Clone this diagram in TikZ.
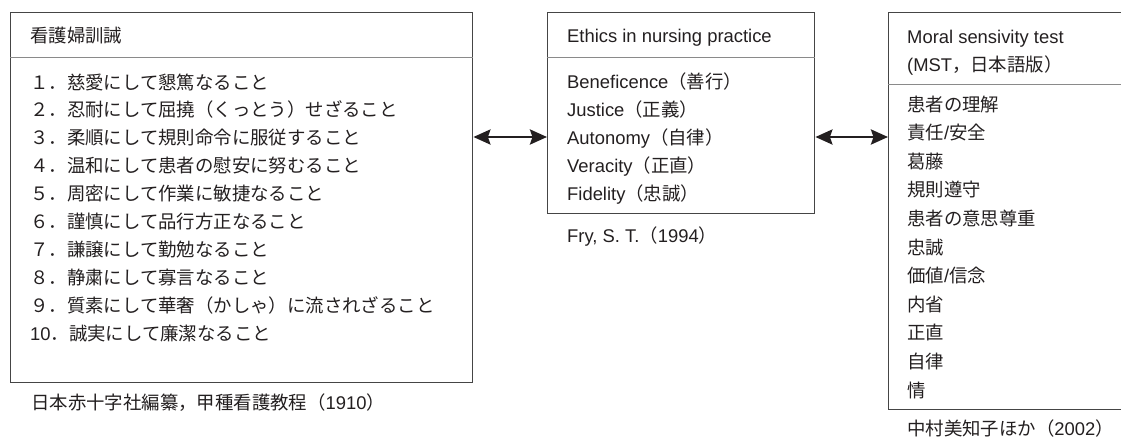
\documentclass[tikz,border=0pt]{standalone}
\usepackage{fontspec}
\setmainfont{Liberation Sans}
\newfontfamily\jp{Noto Sans CJK JP}
\usetikzlibrary{arrows.meta}
\definecolor{ink}{HTML}{231F20}
\definecolor{frame}{HTML}{454545}
\definecolor{rulegray}{HTML}{8A8A8A}
\begin{document}
\begin{tikzpicture}[
        x=1pt, y=-1pt,
        % 样式
        box/.style={draw=frame, line width=1.4pt, anchor=north west, inner sep=0pt},
        rule/.style={draw=rulegray, line width=1pt},
        txt/.style={anchor=base west, inner sep=0pt, text=ink, font=\fontsize{18.4}{22}\selectfont},
        link/.style={draw=ink, line width=2.8pt,
            {Stealth[length=17pt,width=15pt,inset=2.5pt]}-{Stealth[length=17pt,width=15pt,inset=2.5pt]}},
    ]
    \useasboundingbox (0,0) rectangle (1121,439);
    \clip (0,0) rectangle (1121,439);

    % 三个框
    \node[box, minimum width=462pt, minimum height=370pt] (kunkai) at (10,12) {};
    \node[box, minimum width=267pt, minimum height=201pt] (ethics) at (547,12) {};
    \node[box, minimum width=260pt, minimum height=397pt] (mst) at (888,12) {};

    % 标题分隔线
    \coordinate (s1) at (0,57);
    \coordinate (s2) at (0,84);
    \draw[rule] (kunkai.west |- s1) -- (kunkai.east |- s1);
    \draw[rule] (ethics.west |- s1) -- (ethics.east |- s1);
    \draw[rule] (mst.west |- s2) -- (mst.east |- s2);

    % 左框：看護婦訓誡
    \def\lx{30}
    \def\ldy{27.9}
    \node[txt] (k0) at (\lx,42) {\jp 看護婦訓誡};
    \node[txt] (k1) at (\lx,89) {\jp １．慈愛にして懇篤なること};
    \node[txt] (k2) at (\lx,{89+\ldy}) {\jp ２．忍耐にして屈撓（くっとう）せざること};
    \node[txt] (k3) at (\lx,{89+2*\ldy}) {\jp ３．柔順にして規則命令に服従すること};
    \node[txt] (k4) at (\lx,{89+3*\ldy}) {\jp ４．温和にして患者の慰安に努むること};
    \node[txt] (k5) at (\lx,{89+4*\ldy}) {\jp ５．周密にして作業に敏捷なること};
    \node[txt] (k6) at (\lx,{89+5*\ldy}) {\jp ６．謹慎にして品行方正なること};
    \node[txt] (k7) at (\lx,{89+6*\ldy}) {\jp ７．謙譲にして勤勉なること};
    \node[txt] (k8) at (\lx,{89+7*\ldy}) {\jp ８．静粛にして寡言なること};
    \node[txt] (k9) at (\lx,{89+8*\ldy}) {\jp ９．質素にして華奢（かしゃ）に流されざること};
    \node[txt] (k10) at (\lx,{89+9*\ldy}) {10{\jp ．誠実にして廉潔なること}};
    \node[txt] (kref) at (31,409) {{\jp 日本赤十字社編纂，甲種看護教程（}1910{\jp ）}};

    % 中框：Ethics in nursing practice
    \def\mx{567}
    \node[txt] (e0) at (\mx,42) {Ethics in nursing practice};
    \node[txt] (e1) at (\mx,88) {Beneficence{\jp （善行）}};
    \node[txt] (e2) at (\mx,116) {Justice{\jp （正義）}};
    \node[txt] (e3) at (\mx,144) {Autonomy{\jp （自律）}};
    \node[txt] (e4) at (\mx,172) {Veracity{\jp （正直）}};
    \node[txt] (e5) at (\mx,200) {Fidelity{\jp （忠誠）}};
    \node[txt] (eref) at (\mx,242) {Fry, S. T.{\jp （}1994{\jp ）}};

    % 右框：MST
    \def\rx{907}
    \def\rdy{28.6}
    \node[txt] (m0) at (\rx,43) {Moral sensivity test};
    \node[txt] (m00) at (\rx,71) {(MST{\jp ，日本語版）}};
    \node[txt] (m1) at (\rx,111) {\jp 患者の理解};
    \node[txt] (m2) at (\rx,{111+\rdy}) {{\jp 責任}/{\jp 安全}};
    \node[txt] (m3) at (\rx,{111+2*\rdy}) {\jp 葛藤};
    \node[txt] (m4) at (\rx,{111+3*\rdy}) {\jp 規則遵守};
    \node[txt] (m5) at (\rx,{111+4*\rdy}) {\jp 患者の意思尊重};
    \node[txt] (m6) at (\rx,{111+5*\rdy}) {\jp 忠誠};
    \node[txt] (m7) at (\rx,{111+6*\rdy}) {{\jp 価値}/{\jp 信念}};
    \node[txt] (m8) at (\rx,{111+7*\rdy}) {\jp 内省};
    \node[txt] (m9) at (\rx,{111+8*\rdy}) {\jp 正直};
    \node[txt] (m10) at (\rx,{111+9*\rdy}) {\jp 自律};
    \node[txt] (m11) at (\rx,{111+10*\rdy}) {\jp 情};
    \node[txt] (mref) at (\rx,435) {{\jp 中村美知子ほか（}2002{\jp ）}};

    % 双向箭头
    \coordinate (ay) at (0,137);
    \draw[link] (kunkai.east |- ay) -- (ethics.west |- ay);
    \draw[link] (ethics.east |- ay) -- (mst.west |- ay);
\end{tikzpicture}
\end{document}
